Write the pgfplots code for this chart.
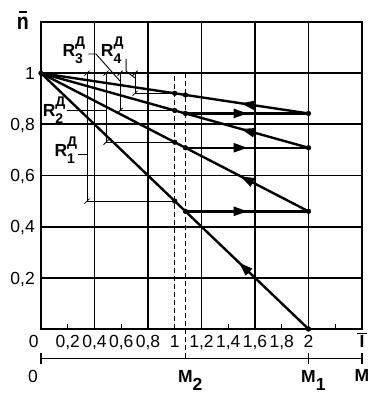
\documentclass[border=0pt]{standalone}
\usepackage{pgfplots}
\pgfplotsset{compat=1.18}
\usepackage{fontspec}
\setmainfont{Liberation Sans}
\usepackage{graphicx}
\usetikzlibrary{arrows.meta,decorations.markings}

\newcommand{\lab}{\fontsize{17.5}{17.5}\selectfont}
\newcommand{\sml}{\fontsize{14}{14}\selectfont\bfseries}
\newcommand{\Rl}[1]{{\lab\bfseries R}\rlap{\raisebox{10pt}{\sml Д}}\raisebox{-6.6pt}{\sml #1}}
\newcommand{\Ml}[1]{{\lab\bfseries M}\rlap{\raisebox{-8pt}{\lab\bfseries #1}}}

\tikzset{
  arr/.style={postaction={decorate},
    decoration={markings, mark=at position #1 with {\arrow{Triangle[length=14pt,width=9pt]}}}},
  sl/.style={line width=0.8pt},
}

\begin{document}
\begin{tikzpicture}
\begin{axis}[
  at={(0,0)}, anchor=south west,
  scale only axis, width=321pt, height=307pt,
  xmin=0, xmax=2.4, ymin=0, ymax=1.2,
  clip=false,
  axis line style={line width=1.7pt, black},
  grid=major, grid style={line width=1.7pt, black},
  xtick={0.4,0.8,1.2,1.6,2.0},
  xticklabels={{0,4},{0,8},{1,2},{1,6},{2}},
  ytick={0.2,0.4,0.6,0.8,1.0},
  yticklabels={{0,2},{0,4},{0,6},{0,8},{1}},
  major tick length=0pt,
  tick style={black, line width=1.1pt},
  tick pos=left,
  extra x ticks={0.2,0.6,1.0,1.4,1.8,2.2},
  extra x tick labels={{0,2},{0,6},{1},{1,4},{1,8},{}},
  extra x tick style={grid=none, major tick length=5pt, tick align=inside},
  xticklabel style={font=\lab, inner sep=0pt, anchor=base, yshift=-18.5pt},
  yticklabel style={font=\lab, inner sep=0pt, anchor=base east, xshift=-6pt, yshift=-6.2pt},
]
% main characteristics
\addplot[line width=2.4pt, arr=0.26] coordinates {(2,0) (0,1)};
\addplot[line width=2.4pt, arr=0.255] coordinates {(2,0.46) (0,1)};
\addplot[line width=2.4pt, arr=0.2525] coordinates {(2,0.7084) (0,1)};
\addplot[line width=2.4pt, arr=0.2525] coordinates {(2,0.8425) (0,1)};
\addplot[line width=2.4pt, arr=0.505] coordinates {(1.08,0.46) (2,0.46)};
\addplot[line width=2.4pt, arr=0.505] coordinates {(1.08,0.7084) (2,0.7084)};
\addplot[line width=2.4pt, arr=0.505] coordinates {(1.08,0.8425) (2,0.8425)};
% dashed verticals
\addplot[line width=0.9pt, dash pattern=on 5pt off 3pt] coordinates {(1,0) (1,1)};
\addplot[line width=0.9pt, dash pattern=on 5pt off 3pt] coordinates {(1.08,-0.1153) (1.08,1)};
% points
\addplot[only marks, mark=*, mark size=2.4pt, black] coordinates {
 (0,1) (1,0.5) (1.08,0.46) (2,0) (2,0.46) (1,0.73) (1.08,0.7084) (2,0.7084)
 (1,0.8542) (1.08,0.8425) (2,0.8425) (1,0.9213) (1.08,0.9149)};
% dimension lines
\addplot[line width=0.9pt] coordinates {(0.344,1) (0.344,0.5) (1,0.5)};
\addplot[line width=0.9pt] coordinates {(0.486,1) (0.486,0.73) (1,0.73)};
\addplot[line width=0.9pt] coordinates {(0.591,1) (0.591,0.8542) (1,0.8542)};
\addplot[line width=0.9pt] coordinates {(0.703,1) (0.703,0.9213) (1,0.9213)};
% slash ticks
\draw[sl] ([shift={(-2.5pt,-2.5pt)}]axis cs:0.344,1) -- ++(5pt,5pt);
\draw[sl] ([shift={(-2.5pt,-2.5pt)}]axis cs:0.486,1) -- ++(5pt,5pt);
\draw[sl] ([shift={(-2.5pt,-2.5pt)}]axis cs:0.591,1) -- ++(5pt,5pt);
\draw[sl] ([shift={(-2.5pt,-2.5pt)}]axis cs:0.703,1) -- ++(5pt,5pt);
\draw[sl] ([shift={(-2.5pt,-2.5pt)}]axis cs:0.344,0.5) -- ++(5pt,5pt);
\draw[sl] ([shift={(-2.5pt,-2.5pt)}]axis cs:0.486,0.73) -- ++(5pt,5pt);
\draw[sl] ([shift={(-2.5pt,-2.5pt)}]axis cs:0.591,0.8542) -- ++(5pt,5pt);
\draw[sl] ([shift={(-2.5pt,-2.5pt)}]axis cs:0.703,0.9213) -- ++(5pt,5pt);
% leaders
\draw[line width=0.9pt] (axis cs:0.275,0.684) -- (axis cs:0.344,0.684);
\draw[line width=0.9pt] (axis cs:0.195,0.8542) -- (axis cs:0.486,0.8542);
\draw[line width=0.9pt] (axis cs:0.355,1.075) -- (axis cs:0.411,1.075) -- (axis cs:0.591,0.969);
\draw[line width=0.9pt] (axis cs:0.636,1.055) -- (axis cs:0.636,1.008) -- (axis cs:0.703,0.981);
% R labels
\node[anchor=base west, inner sep=0pt] at (axis cs:0.160,1.064) {\Rl{3}};
\node[anchor=base west, inner sep=0pt] at (axis cs:0.447,1.064) {\Rl{4}};
\node[anchor=base west, inner sep=0pt] at (axis cs:0.012,0.830) {\Rl{2}};
\node[anchor=base west, inner sep=0pt] at (axis cs:0.100,0.6735) {\Rl{1}};
% axis titles
\node[anchor=base, inner sep=0pt] at (axis cs:-0.135,1.170) {\scalebox{0.85}[1]{\fontsize{23}{23}\selectfont\bfseries n}};
\draw[line width=1.5pt] (axis cs:-0.163,1.240) -- (axis cs:-0.107,1.240);
\node[font=\lab, anchor=base, inner sep=0pt, yshift=-18.5pt] at (axis cs:-0.055,0) {0};
\node[font=\lab, anchor=base, inner sep=0pt, yshift=-18.5pt] at (axis cs:2.4,0) {\bfseries I};
\draw[line width=1.5pt] (axis cs:2.363,-0.0168) -- (axis cs:2.437,-0.0168);
% M axis
\draw[line width=1.5pt] (axis cs:0,-0.1153) -- (axis cs:2.4,-0.1153);
\draw[line width=1.5pt] (axis cs:0,-0.0938) -- (axis cs:0,-0.1368);
\draw[line width=1.5pt] (axis cs:2,-0.0938) -- (axis cs:2,-0.1368);
\draw[line width=1.5pt] (axis cs:2.4,-0.0938) -- (axis cs:2.4,-0.1368);
\node[font=\lab, anchor=base, inner sep=0pt] at (axis cs:-0.06,-0.2072) {0};
\node[anchor=base, inner sep=0pt] at (axis cs:1.08,-0.2072) {\Ml{2}};
\node[anchor=base, inner sep=0pt] at (axis cs:2,-0.2072) {\Ml{1}};
\node[anchor=base, inner sep=0pt] at (axis cs:2.4,-0.2033) {\lab\bfseries M};
\end{axis}
\pgfresetboundingbox
\path[use as bounding box] (-41pt,-72pt) rectangle (350pt,329pt);
\end{tikzpicture}
\end{document}
